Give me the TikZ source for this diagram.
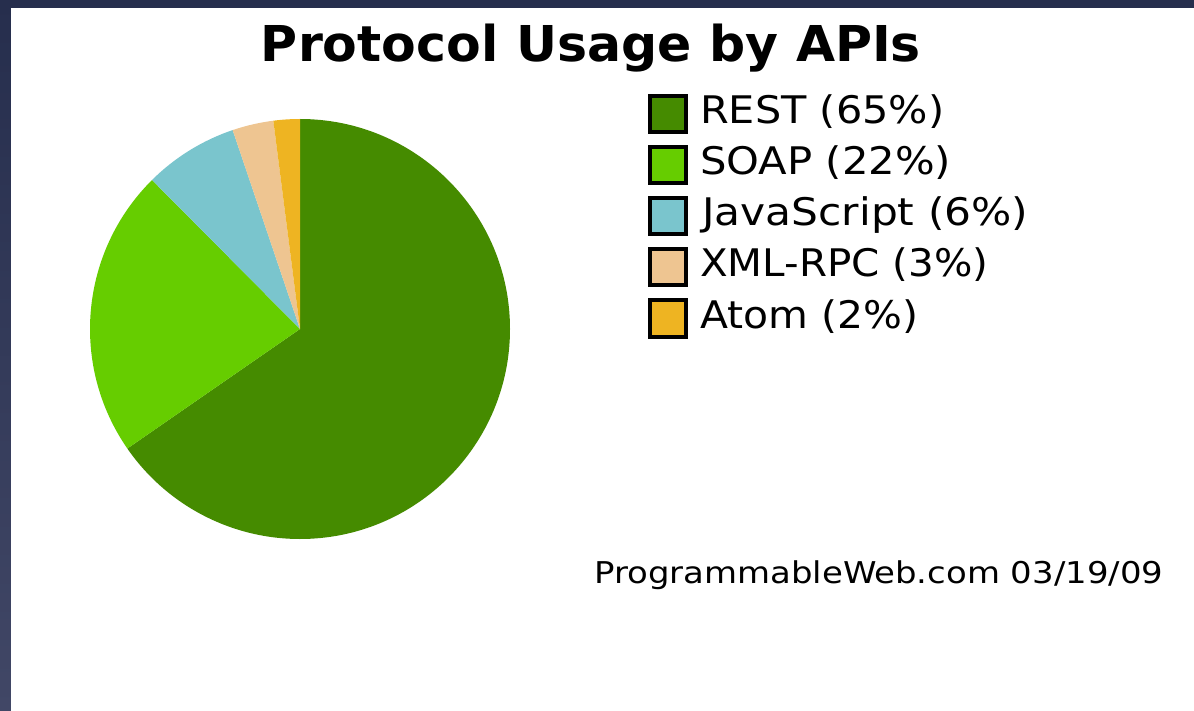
\documentclass[tikz,border=0pt]{standalone}
\usepackage{fontspec}
\setmainfont{DejaVu Sans}
\usepackage{graphicx}
\definecolor{rest}{HTML}{458B00}
\definecolor{soap}{HTML}{66CD00}
\definecolor{jsc}{HTML}{7AC5CD}
\definecolor{xmlrpc}{HTML}{EEC591}
\definecolor{atom}{HTML}{EEB422}
\definecolor{frametop}{HTML}{262E4D}
\definecolor{framebot}{HTML}{414766}
\newcommand{\fitw}[2]{\resizebox{#1}{\height}{#2}}
\tikzset{
  legbox/.style={draw=black, line width=4pt, minimum width=36pt, minimum height=36pt, inner sep=0pt},
  legtext/.style={anchor=base west, inner sep=0pt, font=\fontsize{38}{40}\selectfont},
  wedge/.style={line width=0pt}
}
\begin{document}
\begin{tikzpicture}[x=1pt,y=-1pt]
\useasboundingbox (0,0) rectangle (1194,711);
\shade[top color=frametop, bottom color=framebot] (0,0) rectangle (1194,711);
\fill[white] (11,8) rectangle (1194,711);
% pie
\coordinate (c) at (300,329);
\def\R{210pt}
\fill[rest]   (c) -- ++(90:\R)    arc[start angle=90,    end angle=-145.3, radius=\R] -- cycle;
\fill[soap]   (c) -- ++(214.7:\R) arc[start angle=214.7, end angle=134.8,  radius=\R] -- cycle;
\fill[jsc]    (c) -- ++(134.8:\R) arc[start angle=134.8, end angle=108.7,  radius=\R] -- cycle;
\fill[xmlrpc] (c) -- ++(108.7:\R) arc[start angle=108.7, end angle=97.3,   radius=\R] -- cycle;
\fill[atom]   (c) -- ++(97.3:\R)  arc[start angle=97.3,  end angle=90,     radius=\R] -- cycle;
% title
\node[anchor=base, inner sep=0pt, font=\fontsize{49.4}{52}\selectfont\bfseries] (title) at (591,62) {\fitw{660pt}{Protocol Usage by APIs}};
% legend
\node[legbox, fill=rest]   (b1) at (668,114.5) {};
\node[legbox, fill=soap]   (b2) at (668,165.5) {};
\node[legbox, fill=jsc]    (b3) at (668,216.5) {};
\node[legbox, fill=xmlrpc] (b4) at (668,267.5) {};
\node[legbox, fill=atom]   (b5) at (668,318.5) {};
\node[legtext] (t1) at (700,124) {\fitw{244pt}{REST (65\%)}};
\node[legtext] (t2) at (700,175) {\fitw{251pt}{SOAP (22\%)}};
\node[legtext] (t3) at (702,226) {\fitw{326pt}{JavaScript (6\%)}};
\node[legtext] (t4) at (700,277) {\fitw{288pt}{XML-RPC (3\%)}};
\node[legtext] (t5) at (700,328) {\fitw{218pt}{Atom (2\%)}};
% footer
\node[anchor=base west, inner sep=0pt, font=\fontsize{30}{32}\selectfont] (foot) at (594,583) {\fitw{569pt}{ProgrammableWeb.com 03/19/09}};
\end{tikzpicture}
\end{document}
